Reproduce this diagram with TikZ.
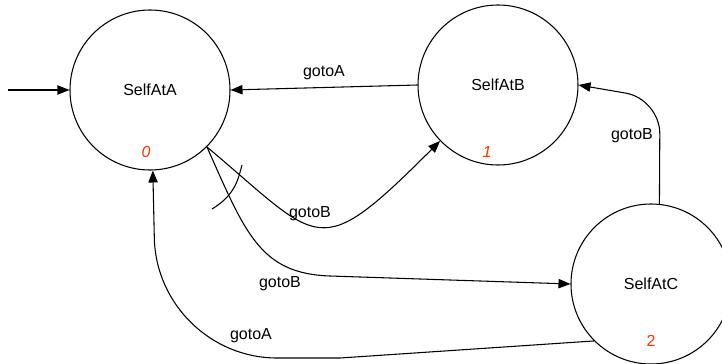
\documentclass[tikz,border=0pt]{standalone}
\usepackage{fontspec}
\setmainfont{Liberation Sans}
\usepackage{tikz}
\usetikzlibrary{arrows.meta,positioning}
\definecolor{numred}{HTML}{FF3300}
\tikzset{
  state/.style={circle,draw,line width=0.8pt,minimum size=120pt,inner sep=0pt},
  num/.style={text=numred,font=\fontsize{12}{14}\selectfont\itshape},
  every node/.style={font=\fontsize{12}{14}\selectfont}
}
\tikzstyle{arrow} = [line width=0.8pt,-{Triangle[length=9pt,width=7pt]}]

\begin{document}
\begin{tikzpicture}[x=0.75pt,y=0.75pt]
  \clip (0,0) rectangle (722,-364);
  % the three states
  \node[state] (A) at (150,-90) {SelfAtA};
  \node[state] (B) at (498,-85) {SelfAtB};
  \node[state] (C) at (651,-284) {SelfAtC};
  \node[num] (n0) at (146,-152) {0};
  \node[num] (n1) at (487,-152) {1};
  \node[num,font=\fontsize{12}{14}\selectfont\upshape] (n2) at (651,-341) {2};
  \coordinate (start) at (8,-90);
  % transitions
  \draw[arrow] (start) -- (A.west);
  \draw[arrow] (B.west) -- (A.east);
  \draw[arrow] (A.-45) .. controls +(-40:150) and +(-135:175) .. (B.-136);
  \draw[arrow] (A.-45) .. controls +(-66:95) and +(178:70) .. (330,-276) -- (C.west);
  \draw[arrow] (C.-135) -- (340,-358) [rounded corners=90pt] -- (157,-358) -- (A.-88);
  \draw[arrow] (C.84) [rounded corners=26pt] -- (660,-99) -- (B.east);
  \draw[line width=0.8pt] (212,-209) .. controls (235,-195) and (238,-180) .. (242,-165);
  % labels
  \node (lBA) at (324,-73) {gotoA};
  \node (lAB) at (310,-214) {gotoB};
  \node (lAC) at (280,-284) {gotoB};
  \node (lCA) at (251,-336) {gotoA};
  \node (lCB) at (632,-136) {gotoB};
\end{tikzpicture}
\end{document}
